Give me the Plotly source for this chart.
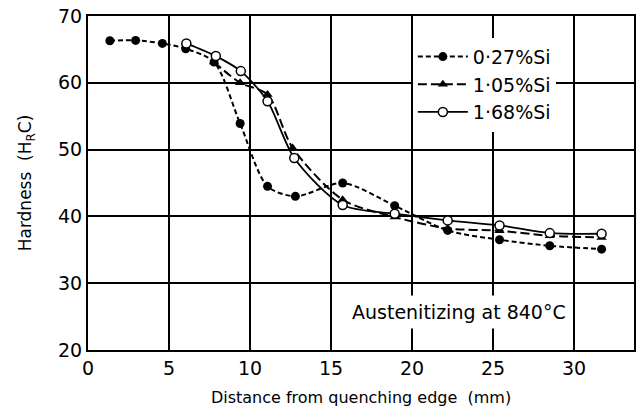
import plotly.graph_objects as go

# Data
x_027 = [1.35, 2.94, 4.59, 6.03, 7.78, 9.39, 11.08, 12.8, 15.72, 18.93, 22.2, 25.4, 28.5, 31.7]
y_027 = [66.3, 66.35, 65.9, 65.1, 63.1, 53.9, 44.5, 43.0, 45.0, 41.6, 37.9, 36.5, 35.6, 35.1]

x_105 = [7.78, 9.39, 11.08, 12.63, 15.72, 18.93, 22.2, 25.4, 28.5, 31.7]
y_105 = [63.1, 60.0, 58.25, 50.25, 42.5, 39.9, 38.2, 37.85, 37.1, 36.85]

x_168 = [6.07, 7.89, 9.43, 11.08, 12.73, 15.72, 18.93, 22.2, 25.4, 28.5, 31.7]
y_168 = [65.9, 64.0, 61.75, 57.25, 48.75, 41.7, 40.4, 39.4, 38.65, 37.5, 37.4]

names = ["0·27%Si", "1·05%Si", "1·68%Si"]
x_ticks = [0, 5, 10, 15, 20, 25, 30]
y_ticks = [20, 30, 40, 50, 60, 70]

FONT = "DejaVu Sans"

fig = go.Figure()
fig.add_trace(go.Scatter(
    x=x_105, y=y_105, name=names[1], mode="lines+markers",
    line=dict(color="black", width=2, dash="9px,4px", shape="spline", smoothing=0.8),
    marker=dict(symbol="triangle-up", size=9, color="black"),
    legendrank=2,
))
fig.add_trace(go.Scatter(
    x=x_027, y=y_027, name=names[0], mode="lines+markers",
    line=dict(color="black", width=2, dash="5px,3px", shape="spline", smoothing=0.8),
    marker=dict(symbol="circle", size=9, color="black"),
    legendrank=1,
))
fig.add_trace(go.Scatter(
    x=x_168, y=y_168, name=names[2], mode="lines+markers",
    line=dict(color="black", width=1.8, shape="spline", smoothing=0.8),
    marker=dict(symbol="circle", size=9, color="white", line=dict(color="black", width=1.5)),
    legendrank=3,
))

fig.add_annotation(
    x=0.68, y=0.115, xref="paper", yref="paper",
    xanchor="center", yanchor="middle",
    text="Austenitizing at 840°C", showarrow=False,
    font=dict(family=FONT, size=19, color="black"),
    bgcolor="white", borderpad=5,
)

fig.update_layout(
    width=640, height=412,
    margin=dict(l=88, r=4, t=16, b=62),
    paper_bgcolor="white", plot_bgcolor="white",
    font=dict(family=FONT, color="black"),
    showlegend=True,
    legend=dict(
        x=0.595, y=0.935, xanchor="left", yanchor="top",
        bgcolor="white", borderwidth=0,
        font=dict(family=FONT, size=19, color="black"),
        traceorder="normal", tracegroupgap=0, itemwidth=50,
    ),
)
fig.update_xaxes(
    range=[0, 33.7], tickvals=x_ticks, ticktext=[str(v) for v in x_ticks],
    showgrid=True, gridcolor="black", gridwidth=1.5,
    showline=True, linecolor="black", linewidth=2, mirror=True,
    ticks="", zeroline=False,
    tickfont=dict(family=FONT, size=19, color="black"),
    title=dict(text="Distance from quenching edge  (mm)",
               font=dict(family=FONT, size=16, color="black"), standoff=14),
)
fig.update_yaxes(
    range=[20, 70], tickvals=y_ticks, ticktext=[str(v) for v in y_ticks],
    showgrid=True, gridcolor="black", gridwidth=1.5,
    showline=True, linecolor="black", linewidth=2, mirror=True,
    ticks="", zeroline=False,
    tickfont=dict(family=FONT, size=19, color="black"),
    title=dict(text="Hardness  (H<sub>R</sub>C)",
               font=dict(family=FONT, size=17, color="black"), standoff=22),
)

fig.write_html("out.html")
